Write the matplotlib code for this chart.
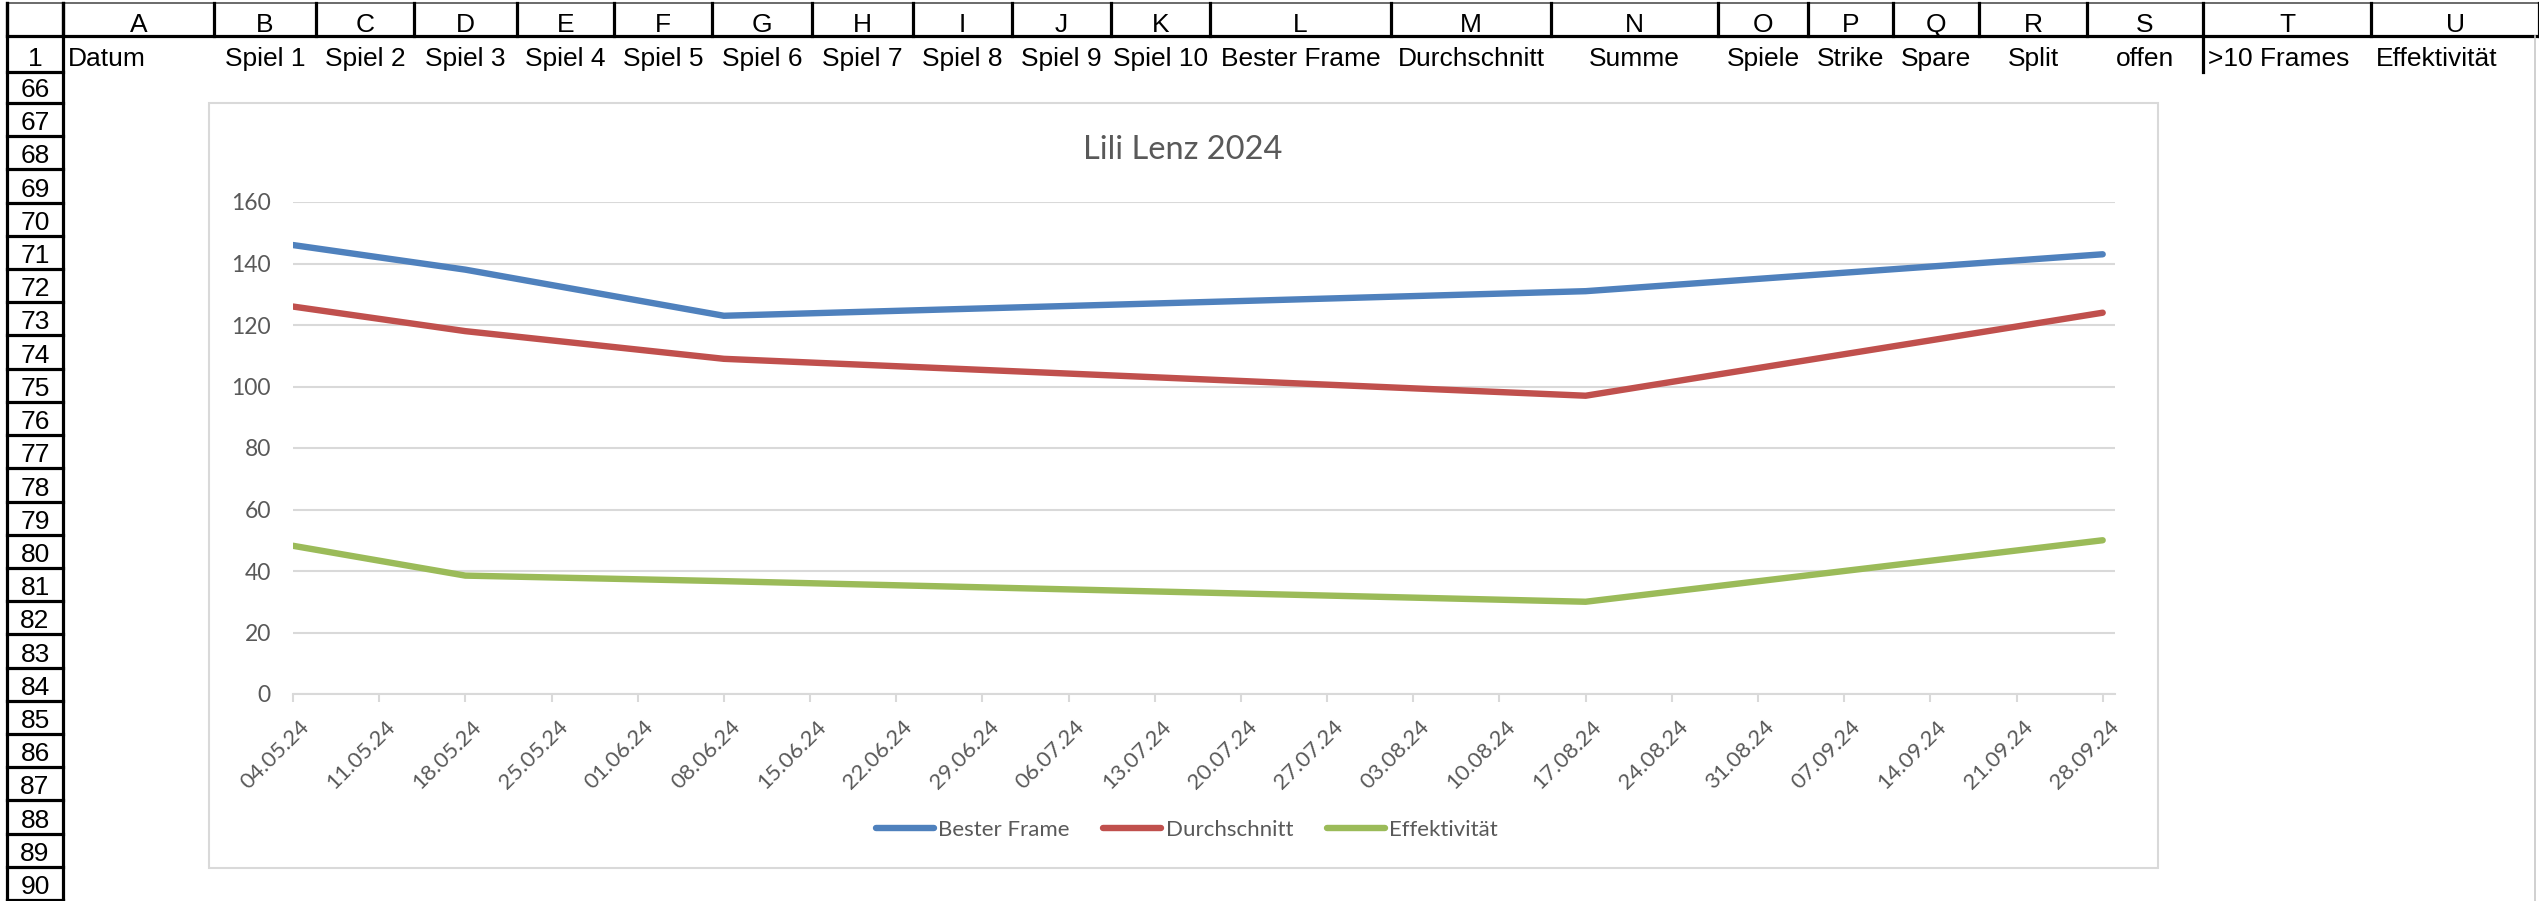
# Spreadsheet screenshot with an embedded line chart (Lili Lenz 2024)

import numpy as np
import pandas as pd
import matplotlib
matplotlib.use('Agg')
import matplotlib.pyplot as plt
from matplotlib.patches import Rectangle
from matplotlib.transforms import ScaledTranslation

plt.rcParams['font.family'] = ['Liberation Sans', 'DejaVu Sans']

# --- data -------------------------------------------------------------
dates = pd.to_datetime(['2024-05-04', '2024-05-18', '2024-06-08', '2024-08-17', '2024-09-28'])
bester_frame = [146, 138, 123, 131, 143]
durchschnitt = [126, 118, 109, 97, 124]
effektivitaet = [48.2, 38.5, 36.7, 30, 50]
series_names = ['Bester Frame', 'Durchschnitt', 'Effektivität']
series_colors = ['#4F81BD', '#C0504D', '#9BBB59']
tick_dates = pd.date_range('2024-05-04', '2024-09-28', freq='7D')
y_ticks = [0, 20, 40, 60, 80, 100, 120, 140, 160]
title = 'Lili Lenz 2024'

# spreadsheet content
col_letters = ['A', 'B', 'C', 'D', 'E', 'F', 'G', 'H', 'I', 'J', 'K',
               'L', 'M', 'N', 'O', 'P', 'Q', 'R', 'S', 'T', 'U']
row1_texts = ['Datum', 'Spiel 1', 'Spiel 2', 'Spiel 3', 'Spiel 4', 'Spiel 5',
              'Spiel 6', 'Spiel 7', 'Spiel 8', 'Spiel 9', 'Spiel 10',
              'Bester Frame', 'Durchschnitt', 'Summe', 'Spiele', 'Strike',
              'Spare', 'Split', 'offen', '>10 Frames', 'Effektivität']
row_numbers = ['1'] + [str(n) for n in range(66, 91)]

# --- layout (pixels of the 2539x901 screenshot) ------------------------
W, H = 2539, 901
col_edges = [63, 214, 316, 414, 517, 614, 712, 812, 913, 1012, 1111, 1210,
             1391, 1551, 1718, 1808, 1893, 1979, 2087, 2203, 2371, 2539]
row_edges = [36, 72] + list(np.linspace(103, 900, 25))
left_align = {'Datum', '>10 Frames', 'Effektivität'}
fs_sheet = 19

fig = plt.figure(figsize=(W / 100, H / 100), dpi=100)
sheet = fig.add_axes([0, 0, 1, 1])
sheet.set_xlim(0, W)
sheet.set_ylim(H, 0)
sheet.axis('off')

lw_b = 2.3
# header row
sheet.plot([7, W], [2.5, 2.5], color='#6a6a6a', lw=1.4)
sheet.plot([7, W], [36, 36], color='black', lw=lw_b)
for x in [7] + col_edges:
    sheet.plot([x, x], [2.5, 36], color='black', lw=lw_b)
for i, letter in enumerate(col_letters):
    cx = (col_edges[i] + col_edges[i + 1]) / 2
    sheet.text(cx, 32, letter, ha='center', va='baseline', fontsize=fs_sheet)

# row labels column
sheet.plot([7, 7], [2.5, H], color='black', lw=lw_b)
sheet.plot([63, 63], [2.5, H], color='black', lw=lw_b)
for bottom, label in zip(row_edges[1:], row_numbers):
    sheet.plot([7, 63], [bottom, bottom], color='black', lw=lw_b)
    sheet.text(35, bottom - 6, label, ha='center', va='baseline', fontsize=fs_sheet)

# row 1 contents
for i, txt in enumerate(row1_texts):
    x0, x1 = col_edges[i], col_edges[i + 1]
    if txt in left_align:
        sheet.text(x0 + 5, 66, txt, ha='left', va='baseline', fontsize=fs_sheet)
    else:
        sheet.text((x0 + x1) / 2, 66, txt, ha='center', va='baseline', fontsize=fs_sheet)
sheet.plot([2203, 2203], [36, 72], color='black', lw=lw_b)
sheet.plot([2535, 2535], [36, H], color='#c8c8c8', lw=1.2)

# chart frame and title
sheet.add_patch(Rectangle((209, 103), 2158 - 209, 868 - 103,
                          facecolor='white', edgecolor='#D9D9D9', lw=1.5))
sheet.text(1183, 159, title, ha='center', va='baseline', fontsize=23.5,
           color='#595959', family='Lato')

# --- chart -------------------------------------------------------------
ax = fig.add_axes([293 / W, 1 - 694 / H, (2115 - 293) / W, (694 - 202) / H])
ax.set_facecolor('none')
lines = []
for vals, name, color in zip([bester_frame, durchschnitt, effektivitaet],
                             series_names, series_colors):
    ln, = ax.plot(dates, vals, color=color, lw=4.6, label=name,
                  solid_capstyle='round', solid_joinstyle='round')
    lines.append(ln)

ax.set_ylim(0, 160)
ax.set_yticks(y_ticks)
ax.set_xlim(pd.Timestamp('2024-05-04'), pd.Timestamp('2024-09-29'))
ax.set_xticks(tick_dates)
ax.set_xticklabels([d.strftime('%d.%m.%y') for d in tick_dates])
ax.grid(axis='y', color='#D9D9D9', lw=1.5)
ax.set_axisbelow(True)
for s in ['top', 'right', 'left']:
    ax.spines[s].set_visible(False)
ax.spines['bottom'].set_color('#D9D9D9')
ax.spines['bottom'].set_linewidth(1.5)
ax.tick_params(axis='y', length=0, pad=16, labelsize=16.5, labelcolor='#595959')
ax.tick_params(axis='x', length=5.8, width=1.5, color='#D9D9D9', pad=15.5,
               labelsize=16, labelcolor='#595959')
for lab in ax.get_yticklabels():
    lab.set_family('Lato')
shift = ScaledTranslation(13 / 100, 0, fig.dpi_scale_trans)
for lab in ax.get_xticklabels():
    lab.set_family('Lato')
    lab.set_rotation(45)
    lab.set_ha('right')
    lab.set_va('center')
    lab.set_rotation_mode('anchor')
    lab.set_transform(lab.get_transform() + shift)

fig.legend(handles=lines, loc='center', bbox_to_anchor=(1187 / W, 1 - 830 / H),
           ncol=3, frameon=False, handlelength=2.6, handletextpad=0.22,
           columnspacing=1.5, borderpad=0, labelcolor='#595959',
           prop={'family': 'Lato', 'size': 16})

fig.savefig('out.png', dpi=100)
